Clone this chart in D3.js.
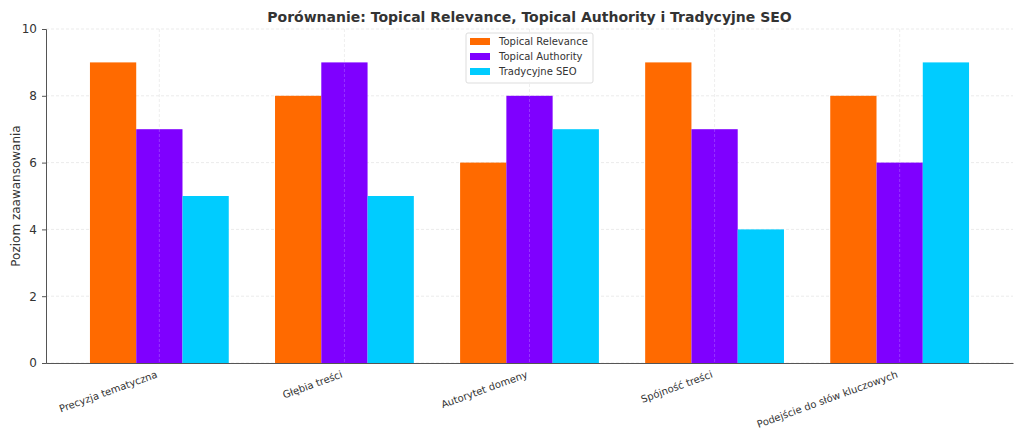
<!DOCTYPE html>
<html>
<head>
<meta charset="utf-8">
<script src="https://cdn.jsdelivr.net/npm/d3@7"></script>
<style>
  body { margin: 0; background: #fff; }
  text { font-family: "DejaVu Sans", sans-serif; fill: #333; }
</style>
</head>
<body>
<div id="chart"></div>
<script>
// data
var categories = ["Precyzja tematyczna", "Głębia treści", "Autorytet domeny", "Spójność treści", "Podejście do słów kluczowych"];
var seriesNames = ["Topical Relevance", "Topical Authority", "Tradycyjne SEO"];
var relevance = [9, 8, 6, 9, 8];
var authority = [7, 9, 8, 7, 6];
var traditional = [5, 5, 7, 4, 9];
var yTicks = [0, 2, 4, 6, 8, 10];
var colors = ["#ff6a00", "#7f00ff", "#00ccff"];

var series = [relevance, authority, traditional];

var margin = { top: 29, right: 11, bottom: 76, left: 46 },
    width = 1024 - margin.left - margin.right,
    height = 439 - margin.top - margin.bottom;

var svg = d3.select("#chart")
    .append("svg")
    .attr("width", 1024)
    .attr("height", 439);

var g = svg.append("g")
    .attr("transform", "translate(" + margin.left + "," + margin.top + ")");

// matplotlib style: categories at 0..n-1, bar width 0.25, 5% margins
var barW = 0.25;
var lo = -1.5 * barW, hi = categories.length - 1 + 1.5 * barW;
var pad = (hi - lo) * 0.05;
var x = d3.scaleLinear()
    .domain([lo - pad, hi + pad])
    .range([0, width]);

var y = d3.scaleLinear()
    .domain([0, 10])
    .range([height, 0]);

// grid
g.append("g")
    .selectAll("line")
    .data(yTicks)
    .enter()
    .append("line")
    .attr("x1", 0)
    .attr("x2", width)
    .attr("y1", function(d) { return y(d); })
    .attr("y2", function(d) { return y(d); })
    .attr("stroke", "#e6e6e6")
    .attr("stroke-dasharray", "3,2")
    .attr("stroke-width", 0.8);

g.append("g")
    .selectAll("line")
    .data(categories)
    .enter()
    .append("line")
    .attr("x1", function(d, i) { return x(i); })
    .attr("x2", function(d, i) { return x(i); })
    .attr("y1", 0)
    .attr("y2", height)
    .attr("stroke", "#e6e6e6")
    .attr("stroke-dasharray", "3,2")
    .attr("stroke-width", 0.8);

// bars
series.forEach(function(vals, s) {
    g.append("g")
        .selectAll("rect")
        .data(vals)
        .enter()
        .append("rect")
        .attr("x", function(d, i) { return x(i + (s - 1) * barW - barW / 2); })
        .attr("width", x(barW) - x(0))
        .attr("y", function(d) { return y(d); })
        .attr("height", function(d) { return height - y(d); })
        .style("fill", colors[s]);
});

// grid lines drawn over bars faintly (as in the reference)
g.append("g")
    .selectAll("line")
    .data(categories)
    .enter()
    .append("line")
    .attr("x1", function(d, i) { return x(i); })
    .attr("x2", function(d, i) { return x(i); })
    .attr("y1", 0)
    .attr("y2", height)
    .attr("stroke", "#ffffff")
    .attr("stroke-opacity", 0.25)
    .attr("stroke-dasharray", "3,2")
    .attr("stroke-width", 0.8);

// Y axis
var yAxis = g.append("g")
    .call(d3.axisLeft(y).tickValues(yTicks).tickSize(4).tickPadding(5));
yAxis.select(".domain").attr("stroke", "#555");
yAxis.selectAll(".tick line").attr("stroke", "#555");
yAxis.selectAll("text").style("font-size", "12px").style("fill", "#333");

// X axis
var xAxis = g.append("g")
    .attr("transform", "translate(0," + height + ")")
    .call(d3.axisBottom(x)
        .tickValues(d3.range(categories.length))
        .tickFormat(function(i) { return categories[i]; })
        .tickSize(0)
        .tickSizeOuter(0));
xAxis.select(".domain").attr("stroke", "#555");
xAxis.selectAll("text")
    .style("font-size", "10px")
    .style("fill", "#333")
    .style("text-anchor", "end")
    .attr("dy", "0.35em")
    .attr("transform", "translate(-4,8)rotate(-20)");

// Y label
svg.append("text")
    .attr("transform", "translate(20," + (margin.top + height / 2) + ")rotate(-90)")
    .attr("text-anchor", "middle")
    .style("font-size", "12px")
    .text("Poziom zaawansowania");

// title
svg.append("text")
    .attr("x", margin.left + width / 2)
    .attr("y", 22)
    .attr("text-anchor", "middle")
    .style("font-size", "14px")
    .style("font-weight", "bold")
    .text("Porównanie: Topical Relevance, Topical Authority i Tradycyjne SEO");

// legend
var legend = svg.append("g")
    .attr("transform", "translate(466,33)");
legend.append("rect")
    .attr("width", 127)
    .attr("height", 50)
    .attr("rx", 2)
    .style("fill", "#fff")
    .style("fill-opacity", 0.8)
    .attr("stroke", "#ddd");
seriesNames.forEach(function(name, i) {
    legend.append("rect")
        .attr("x", 4)
        .attr("y", 5 + i * 15)
        .attr("width", 20)
        .attr("height", 7)
        .style("fill", colors[i]);
    legend.append("text")
        .attr("x", 33)
        .attr("y", 12 + i * 15)
        .style("font-size", "10px")
        .text(name);
});
</script>
</body>
</html>
